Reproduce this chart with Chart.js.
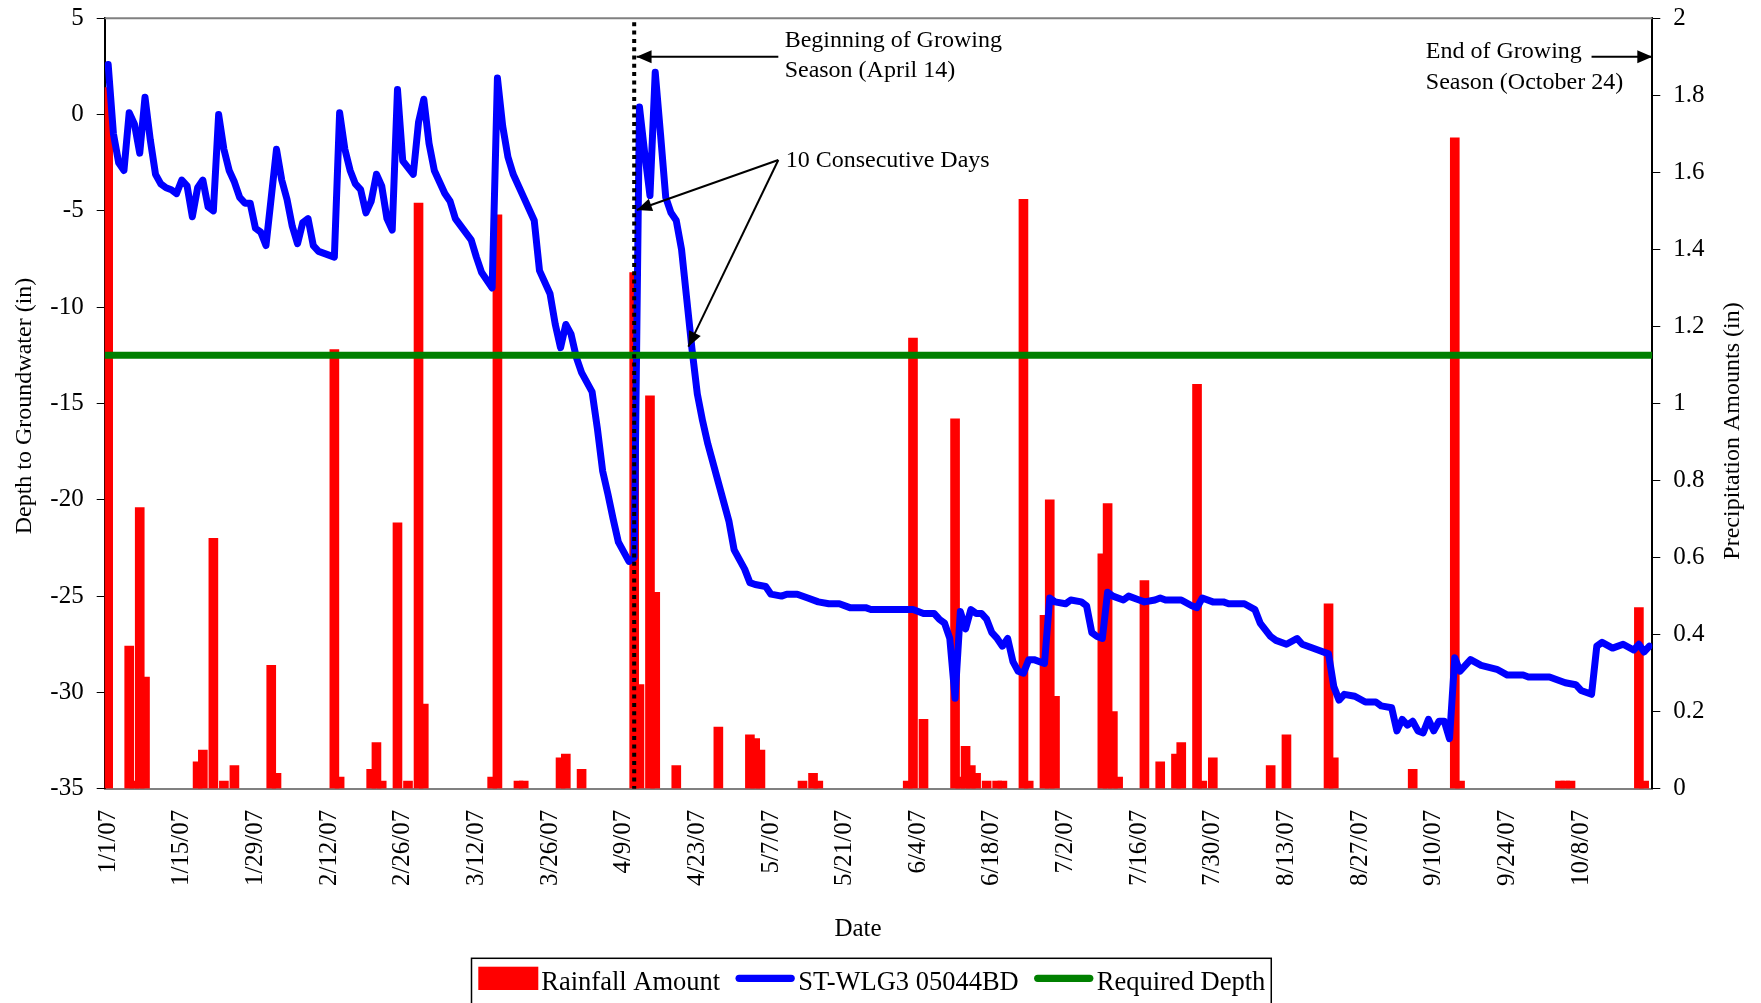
<!DOCTYPE html>
<html>
<head>
<meta charset="utf-8">
<script src="https://cdn.jsdelivr.net/npm/chart.js@4.4.0/dist/chart.umd.min.js"></script>
<style>
  html, body { margin: 0; padding: 0; background: #fff; }
  #wrap { width: 1761px; height: 1003px; }
</style>
</head>
<body>
<div id="wrap"><canvas id="gwChart" width="1761" height="1003"></canvas></div>
<script>
// Data, in days counted from 1/1/07
const startDate = new Date(2007, 0, 1);

const xTickLabels = ['1/1/07', '1/15/07', '1/29/07', '2/12/07', '2/26/07', '3/12/07', '3/26/07',
    '4/9/07', '4/23/07', '5/7/07', '5/21/07', '6/4/07', '6/18/07', '7/2/07', '7/16/07',
    '7/30/07', '8/13/07', '8/27/07', '9/10/07', '9/24/07', '10/8/07'];

// Rainfall (in), right axis
const rainDay = [0, 4, 5, 6, 7, 17, 18, 20, 22, 24, 31, 32, 43, 44, 50, 51, 52, 55, 57, 59, 60,
    73, 74, 78, 79, 86, 87, 90, 100, 101, 103, 104, 108, 116, 122, 123, 124, 132, 134, 135,
    152, 153, 155, 161, 162, 163, 164, 165, 167, 169, 170, 174, 175, 178, 179, 180,
    189, 190, 191, 192, 197, 200, 203, 204, 207, 208, 210, 221, 224, 232, 233, 248,
    256, 257, 276, 277, 278, 291, 292];
const rainIn = [1.82, 0.37, 0.02, 0.73, 0.29, 0.07, 0.10, 0.65, 0.02, 0.06, 0.32, 0.04, 1.14, 0.03, 0.05, 0.12, 0.02, 0.69, 0.02, 1.52, 0.22,
    0.03, 1.49, 0.02, 0.02, 0.08, 0.09, 0.05, 1.34, 0.27, 1.02, 0.51, 0.06, 0.16, 0.14, 0.13, 0.10, 0.02, 0.04, 0.02,
    0.02, 1.17, 0.18, 0.96, 0.03, 0.11, 0.06, 0.04, 0.02, 0.02, 0.02, 1.53, 0.02, 0.45, 0.75, 0.24,
    0.61, 0.74, 0.20, 0.03, 0.54, 0.07, 0.09, 0.12, 1.05, 0.02, 0.08, 0.06, 0.14, 0.48, 0.08, 0.05,
    1.69, 0.02, 0.02, 0.02, 0.02, 0.47, 0.02];

// Well ST-WLG3 05044BD, depth to groundwater (in), left axis
const gwDay = [0, 1, 2, 3, 4, 5, 6, 7, 8, 9, 10, 11, 12, 13, 14, 15, 16, 17, 18, 19, 20,
    21, 22, 23, 24, 25, 26, 27, 28, 29, 30, 32, 33, 34, 35, 36, 37, 38, 39, 40, 43,
    44, 45, 46, 47, 48, 49, 50, 51, 52, 53, 54, 55, 56, 58, 59, 60, 61, 62, 64, 65, 66,
    69, 70, 71, 73, 74, 75, 76, 77, 79, 81, 82, 84, 85, 86, 87, 88, 89, 90, 92, 93, 94,
    95, 96, 97, 99, 100, 101, 102, 103, 104, 105, 106, 107, 108, 109, 110, 111, 112, 113,
    114, 116, 118, 119, 121, 122, 123, 125, 126, 128, 129, 131, 133, 135, 137, 139, 141,
    144, 145, 153, 155, 157, 158, 159, 160, 161, 162, 163, 164, 165, 166, 167, 168, 169,
    170, 171, 172, 173, 174, 175, 176, 178, 179, 180, 182, 183, 185, 186, 187, 188, 189,
    190, 191, 193, 194, 196, 197, 199, 200, 201, 204, 206, 207, 208, 210, 212, 213, 216,
    218, 219, 221, 222, 224, 226, 227, 230, 232, 233, 234, 235, 237, 239, 241, 242, 244,
    245, 246, 247, 248, 249, 250, 251, 252, 253, 254, 255, 256, 257, 259, 261, 264, 266,
    269, 270, 272, 274, 277, 279, 280, 282, 283, 284, 286, 288, 290, 291, 292, 293];
const gwDepth = [2.6, -1.0, -2.5, -2.9, 0.1, -0.5, -2.0, 0.9, -1.3, -3.1, -3.6, -3.8, -3.9, -4.1, -3.4, -3.7, -5.3, -3.8, -3.4, -4.8, -5.0,
    0.0, -1.8, -2.9, -3.5, -4.3, -4.6, -4.6, -5.9, -6.1, -6.8, -1.8, -3.4, -4.4, -5.8, -6.7, -5.6, -5.4, -6.8, -7.1, -7.4,
    0.1, -1.8, -2.9, -3.6, -3.9, -5.1, -4.5, -3.1, -3.7, -5.4, -6.0, 1.3, -2.4, -3.1, -0.4, 0.8, -1.5, -2.9, -4.1, -4.5, -5.4,
    -6.5, -7.4, -8.2, -9.0, 1.9, -0.6, -2.2, -3.1, -4.3, -5.5, -8.1, -9.3, -10.9, -12.1, -10.9, -11.4, -12.6, -13.4, -14.4, -16.3, -18.5,
    -19.7, -21.0, -22.2, -23.2, -23.0, 0.4, -2.0, -4.2, 2.2, -1.0, -4.3, -5.1, -5.5, -7.0, -9.6, -12.2, -14.5, -15.9,
    -17.1, -19.1, -21.1, -22.6, -23.6, -24.3, -24.4, -24.5, -24.9, -25.0, -24.9, -24.9, -25.1, -25.3, -25.4, -25.4, -25.6,
    -25.6, -25.7, -25.7, -25.9, -25.9, -26.2, -26.4, -27.2, -30.3, -25.8, -26.7, -25.7, -25.9, -25.9, -26.2, -26.9, -27.2,
    -27.6, -27.2, -28.4, -28.9, -29.0, -28.3, -28.3, -28.5, -25.1, -25.3, -25.4, -25.2, -25.3, -25.5, -26.9, -27.1, -27.2,
    -24.8, -25.0, -25.2, -25.0, -25.2, -25.3, -25.2, -25.1, -25.2, -25.2, -25.5, -25.6, -25.1, -25.3, -25.3, -25.4, -25.4,
    -25.7, -26.4, -27.1, -27.3, -27.5, -27.2, -27.5, -27.8, -28.0, -29.7, -30.4, -30.1, -30.2, -30.5, -30.5, -30.7, -30.8,
    -32.0, -31.4, -31.7, -31.5, -32.0, -32.1, -31.4, -32.0, -31.5, -31.5, -32.4, -28.2, -28.9, -28.3, -28.6, -28.8, -29.1,
    -29.1, -29.2, -29.2, -29.2, -29.5, -29.6, -29.9, -30.1, -27.6, -27.4, -27.7, -27.5, -27.8, -27.5, -27.9, -27.6];

const requiredDepth = -12.5;
const growStartDay = 100;

// x range of the plot, in days
const X_MIN = -0.66;
const X_MAX = 293.55;

const FONT = 'Liberation Serif';

// Turn 'm/d/yy' into a day count from startDate
function dayOf(label) {
    const [m, d, y] = label.split('/').map(Number);
    return Math.round((new Date(2000 + y, m - 1, d) - startDate) / 86400000);
}
const tickDays = xTickLabels.map(dayOf);

// Annotations, anchored in data units (day, depth)
const notes = [
    { lines: ['Beginning of Growing', 'Season (April 14)'], day: 128.6, depth: 3.53 },
    { lines: ['10 Consecutive Days'], day: 128.8, depth: -2.7 },
    { lines: ['End of Growing', 'Season (October 24)'], day: 250.5, depth: 2.92 }
];
const arrows = [
    { from: [127.4, 3.0], to: [100.45, 3.0] },
    { from: [127.4, -2.36], to: [100.5, -4.95] },
    { from: [127.4, -2.36], to: [110.3, -12.05] },
    { from: [282.0, 3.0], to: [X_MAX, 3.0] }
];

function drawArrow(ctx, x1, y1, x2, y2) {
    ctx.beginPath();
    ctx.moveTo(x1, y1);
    ctx.lineTo(x2, y2);
    ctx.stroke();
    const a = Math.atan2(y2 - y1, x2 - x1);
    const len = 15, w = 6.5;
    ctx.beginPath();
    ctx.moveTo(x2, y2);
    ctx.lineTo(x2 - len * Math.cos(a) + w * Math.sin(a), y2 - len * Math.sin(a) - w * Math.cos(a));
    ctx.lineTo(x2 - len * Math.cos(a) - w * Math.sin(a), y2 - len * Math.sin(a) + w * Math.cos(a));
    ctx.closePath();
    ctx.fill();
}

// Extra drawing: plot border, growing season line, notes, titles and legend
const decorPlugin = {
    id: 'decor',
    afterDraw(chart) {
        const ctx = chart.ctx;
        const area = chart.chartArea;
        const xs = chart.scales.x, ys = chart.scales.y;
        ctx.save();

        // top edge of the plot area
        ctx.strokeStyle = '#808080';
        ctx.lineWidth = 2;
        ctx.beginPath();
        ctx.moveTo(area.left, area.top);
        ctx.lineTo(area.right, area.top);
        ctx.stroke();

        // dotted start-of-season line
        const gx = xs.getPixelForValue(growStartDay);
        ctx.strokeStyle = '#000';
        ctx.lineWidth = 4;
        ctx.setLineDash([4, 4.3]);
        ctx.beginPath();
        ctx.moveTo(gx, area.top + 4);
        ctx.lineTo(gx, area.bottom);
        ctx.stroke();
        ctx.setLineDash([]);

        // arrows
        ctx.fillStyle = '#000';
        ctx.lineWidth = 2;
        arrows.forEach(a => {
            drawArrow(ctx,
                xs.getPixelForValue(a.from[0]), ys.getPixelForValue(a.from[1]),
                xs.getPixelForValue(a.to[0]), ys.getPixelForValue(a.to[1]));
        });

        // notes
        ctx.font = '24px "' + FONT + '"';
        ctx.textAlign = 'left';
        ctx.textBaseline = 'alphabetic';
        notes.forEach(n => {
            const x = xs.getPixelForValue(n.day);
            const y = ys.getPixelForValue(n.depth);
            n.lines.forEach((line, i) => ctx.fillText(line, x, y + i * 30.5));
        });

        // axis titles
        ctx.textAlign = 'center';
        ctx.textBaseline = 'middle';
        ctx.save();
        ctx.translate(24.7, 406);
        ctx.rotate(-Math.PI / 2);
        ctx.fillText('Depth to Groundwater (in)', 0, 0);
        ctx.restore();
        ctx.save();
        ctx.translate(1733, 431);
        ctx.rotate(-Math.PI / 2);
        ctx.fillText('Precipitation Amounts (in)', 0, 0);
        ctx.restore();
        ctx.font = '25px "' + FONT + '"';
        ctx.fillText('Date', 858, 929);

        // legend
        const sets = chart.data.datasets;
        ctx.font = '26.5px "' + FONT + '"';
        ctx.textAlign = 'left';
        ctx.textBaseline = 'alphabetic';
        let cx = 478.3;
        const midY = 978.3, baseY = 990;
        sets.forEach(ds => {
            if (ds.type === 'bar') {
                ctx.fillStyle = ds.backgroundColor;
                ctx.fillRect(cx, 966.7, 60, 23.3);
            } else {
                ctx.strokeStyle = ds.borderColor;
                ctx.lineWidth = 7.3;
                ctx.lineCap = 'round';
                ctx.beginPath();
                ctx.moveTo(cx + 4, midY);
                ctx.lineTo(cx + 56, midY);
                ctx.stroke();
            }
            ctx.fillStyle = '#000';
            ctx.fillText(ds.label, cx + 63, baseY);
            cx += 63 + ctx.measureText(ds.label).width + 15;
        });
        ctx.strokeStyle = '#000';
        ctx.lineWidth = 1.5;
        ctx.lineCap = 'butt';
        ctx.strokeRect(471.5, 958.3, cx - 15 + 6 - 471.5, 60);

        ctx.restore();
    }
};

// keep the tick-label overhang of the value axes from pushing the plot area down
function fixValueAxis(width) {
    return scale => {
        scale.width = width;
        scale.paddingTop = 0;
        scale.paddingBottom = 0;
    };
}

Chart.defaults.font.family = FONT;
Chart.defaults.color = '#000';

const ctx = document.getElementById('gwChart').getContext('2d');
new Chart(ctx, {
    type: 'bar',
    data: {
        datasets: [
            {
                type: 'bar',
                label: 'Rainfall Amount',
                data: rainDay.map((d, i) => ({ x: d, y: rainIn[i] })),
                backgroundColor: '#ff0000',
                barThickness: 9,
                yAxisID: 'y1',
                order: 3
            },
            {
                type: 'line',
                label: 'ST-WLG3 05044BD',
                data: gwDay.map((d, i) => ({ x: d, y: gwDepth[i] })),
                borderColor: '#0000ff',
                borderWidth: 7,
                pointRadius: 0,
                tension: 0,
                borderJoinStyle: 'round',
                borderCapStyle: 'round',
                yAxisID: 'y',
                order: 2
            },
            {
                type: 'line',
                label: 'Required Depth',
                data: [{ x: X_MIN, y: requiredDepth }, { x: X_MAX, y: requiredDepth }],
                borderColor: '#008000',
                borderWidth: 7,
                pointRadius: 0,
                clip: 0,
                yAxisID: 'y',
                order: 1
            }
        ]
    },
    options: {
        responsive: false,
        animation: false,
        devicePixelRatio: 1,
        layout: { padding: { top: 18.3, left: 0, right: 0, bottom: 0 } },
        plugins: { legend: { display: false }, tooltip: { enabled: false } },
        scales: {
            x: {
                type: 'linear',
                min: X_MIN,
                max: X_MAX,
                offset: false,
                grid: { display: false, drawTicks: false, offset: false },
                border: { color: '#808080', width: 2 },
                afterBuildTicks: scale => { scale.ticks = tickDays.map(v => ({ value: v })); },
                afterFit: scale => { scale.height = 214.3; },
                ticks: {
                    autoSkip: false,
                    minRotation: 90,
                    maxRotation: 90,
                    padding: 21,
                    font: { size: 25 },
                    callback: v => xTickLabels[tickDays.indexOf(v)]
                }
            },
            y: {
                position: 'left',
                min: -35,
                max: 5,
                grid: { drawOnChartArea: false, tickLength: 8, color: '#000', lineWidth: 1 },
                border: { color: '#000', width: 2 },
                afterFit: fixValueAxis(104.7),
                ticks: { stepSize: 5, padding: 13, font: { size: 25 }, callback: v => String(v) }
            },
            y1: {
                position: 'right',
                min: 0,
                max: 2,
                grid: { drawOnChartArea: false, tickLength: 8, color: '#000', lineWidth: 1 },
                border: { color: '#000', width: 2 },
                afterFit: fixValueAxis(108.7),
                ticks: { stepSize: 0.2, padding: 13, font: { size: 25 }, callback: v => String(Math.round(v * 10) / 10) }
            }
        }
    },
    plugins: [decorPlugin]
});
</script>
</body>
</html>
